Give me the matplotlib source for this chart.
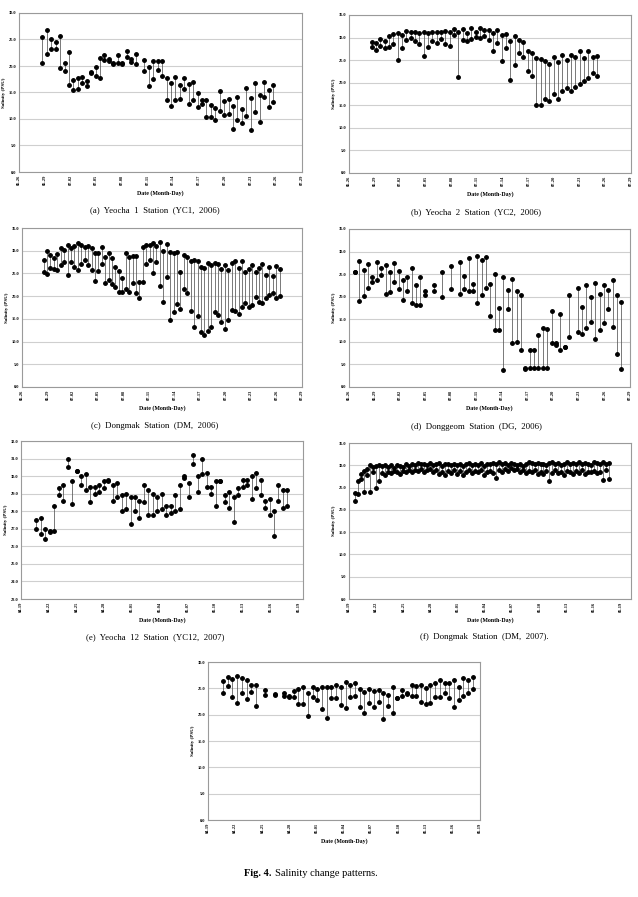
import matplotlib.pyplot as plt
import numpy as np

plt.rcParams["font.family"] = ["Liberation Serif", "DejaVu Serif"]

W, H = 638, 897

JUN_TICKS = ["06-26", "06-29", "07-02", "07-05", "07-08", "07-11",
             "07-14", "07-17", "07-20", "07-23", "07-26", "07-29"]
APR_TICKS = ["04-19", "04-22", "04-25", "04-28", "05-01", "05-04",
             "05-07", "05-10", "05-13", "05-16", "05-19"]

nan = np.nan

# (a) Yeocha 1, 2006 - max / min per reading time
a_t0, a_dt = 2.73, 0.517
a_hi = [25.5, 26.8, 25.0, 24.5, 25.7, 20.6, 22.6, 17.4, 17.8, 18.0,
        17.2, 18.8, 19.8, 21.5, 22.1, 21.4, 20.6, 22.1, 20.6, 22.9,
        21.3, 22.2, nan, 21.2, 19.8, 21.0, 20.9, 21.0, 17.8, 16.7,
        18.0, 16.4, 17.8, 16.6, 16.9, 14.9, 13.6, 13.5, 12.6, 12.0,
        15.3, 13.4, 13.7, 12.5, 14.2, 11.8, 15.8, 14.0, 16.7, 14.5,
        17.0, 15.5, 16.4]
a_lo = [20.5, 22.2, 23.3, 23.3, 19.7, 19.0, 16.5, 15.5, 15.6, 16.8,
        16.3, 18.6, 18.2, 17.7, 21.2, 21.0, 20.4, 20.6, 20.3, 21.7,
        20.8, 20.3, nan, 19.1, 16.2, 17.6, 19.2, 18.2, 13.6, 12.4,
        13.5, 13.8, 15.7, 12.9, 13.6, 12.3, 12.9, 10.3, 10.3, 9.9,
        11.5, 10.8, 11.0, 8.2, 9.9, 9.3, 10.6, 8.0, 11.3, 9.4,
        14.2, 12.3, 13.3]

# (b) Yeocha 2, 2006
b_t0, b_dt = 2.66, 0.507
b_hi = [29.0, 28.8, 29.6, 29.2, 30.3, 30.8, 31.0, 30.6, 31.4, 31.2,
        31.2, 31.0, 31.2, 31.0, 31.2, 31.3, 31.3, 31.5, 31.2, 32.0,
        31.2, 31.8, 31.0, 32.2, 31.2, 32.2, 31.6, 31.7, 31.0, 31.7,
        30.5, 30.8, 29.3, 30.3, 29.4, 29.0, 27.0, 26.5, 25.5, 25.3,
        24.8, 24.2, 25.8, 24.6, 26.2, 25.0, 26.2, 25.6, 27.0, 25.4,
        27.0, 25.6, 26.0]
b_lo = [27.9, 27.3, 28.2, 27.6, 28.0, 28.5, 25.1, 27.7, 29.5, 30.0,
        29.3, 28.6, 26.0, 28.0, 29.2, 28.7, 29.6, 28.6, 28.1, 30.6,
        21.3, 29.5, 29.3, 29.7, 30.2, 29.8, 30.4, 29.5, 27.0, 28.8,
        24.8, 27.6, 20.6, 23.9, 26.5, 25.8, 22.5, 21.4, 15.0, 15.0,
        16.4, 16.0, 17.4, 16.5, 18.2, 18.9, 18.2, 19.0, 19.7, 20.4,
        21.0, 22.2, 21.5]

# (c) Dongmak, 2006
c_t0, c_dt = 2.55, 0.403
c_hi = [28.0, 29.9, 29.0, 28.4, 29.3, 30.5, 30.2, 31.2, 30.5, 31.0,
        31.6, 31.2, 30.8, 31.1, 30.5, 29.5, 29.6, 30.8, 28.6, 29.5,
        28.4, 26.5, 25.5, 24.0, 29.5, 28.7, 28.8, 28.8, 23.2, 30.9,
        31.3, 31.2, 31.8, 31.0, 32.0, 30.0, 31.4, 29.7, 29.4, 29.8,
        25.4, 29.1, 28.6, 27.8, 28.0, 27.8, 26.5, 26.3, 27.2, 26.8,
        27.2, 27.0, 26.0, 26.8, 25.8, 27.4, 27.8, 26.3, 27.8, 25.3,
        26.0, 26.8, 25.3, 26.2, 27.0, 24.6, 26.5, 24.5, 26.7, 26.0]
c_lo = [25.3, 24.8, 26.2, 26.0, 25.8, 26.8, 27.6, 24.7, 27.5, 26.5,
        25.7, 27.0, 28.0, 26.8, 25.8, 23.3, 25.5, 27.0, 23.0, 23.6,
        22.7, 22.0, 21.0, 21.0, 21.5, 21.0, 23.0, 20.8, 19.7, 23.2,
        27.0, 28.0, 25.0, 27.6, 22.3, 18.7, 24.3, 14.8, 16.6, 18.3,
        17.2, 21.5, 20.8, 16.8, 13.1, 15.6, 12.2, 11.5, 12.3, 13.1,
        16.6, 15.8, 14.4, 12.7, 14.8, 17.0, 16.7, 16.0, 17.6, 18.5,
        17.5, 18.0, 19.8, 18.8, 18.6, 19.6, 20.2, 20.8, 19.6, 20.0]

# (d) Donggeom, 2006
d_t0, d_dt = 0.70, 0.513
d_hi = [25.4, 28.0, 26.0, 27.3, 24.3, 27.8, 26.4, 27.0, 25.5, 27.5,
        25.7, 23.8, 24.4, 26.3, 22.6, 24.4, 21.2, nan, 22.5, nan,
        25.4, nan, 26.8, nan, 27.7, 24.5, 28.5, 22.8, 29.0, 28.1,
        28.8, 22.9, 25.1, 17.6, 24.4, 21.5, 23.9, 21.2, 20.3, 4.2,
        8.2, 8.2, 11.5, 13.0, 12.9, 16.8, 9.8, 16.1, 8.8, 20.3,
        nan, 22.0, 17.8, 22.6, 20.0, 23.0, 20.6, 22.7, 21.5, 23.6,
        20.4, 18.8]
d_lo = [25.4, 19.0, 20.1, 22.0, 23.2, 23.8, 24.9, 20.5, 21.0, 23.2,
        21.6, 19.3, 21.3, 18.6, 18.2, 18.1, 20.3, nan, 21.3, nan,
        20.0, nan, 21.6, nan, 20.6, 21.8, 21.3, 21.3, 18.6, 20.4,
        22.0, 15.8, 12.6, 12.6, 3.7, 17.3, 9.7, 10.0, 8.3, 4.0,
        4.2, 4.3, 4.3, 4.2, 4.3, 9.8, 9.4, 8.3, 8.8, 11.1,
        nan, 12.1, 11.8, 13.1, 14.4, 10.7, 12.6, 14.1, 17.2, 13.2,
        7.3, 4.0]

# (e) Yeocha 12, 2007
e_t0, e_dt = 1.66, 0.485
e_hi = [27.5, 27.6, 27.0, 26.9, 28.3, 29.3, 29.5, 31.0, 29.7, 30.3,
        30.0, 30.1, 29.4, 29.4, 29.5, 29.7, 29.8, 29.5, 29.6, 28.9,
        29.0, 28.8, 28.8, 28.6, 29.5, 29.2, 29.0, 28.8, 29.0, 28.3,
        28.3, 28.9, 29.5, 30.0, 29.6, 31.2, 30.0, 31.0, 30.2, 29.4,
        29.7, 29.7, 28.9, 29.1, 28.8, 29.3, 29.8, 29.8, 30.0, 30.2,
        29.8, 28.6, 28.7, 28.0, 29.5, 29.2, 29.2]
e_lo = [27.0, 26.7, 26.4, 26.8, 26.9, 28.9, 28.6, 30.5, 28.4, 30.3,
        29.5, 29.2, 28.5, 29.0, 29.1, 29.3, 29.7, 28.6, 28.8, 28.0,
        28.1, 27.3, 28.0, 27.6, 28.5, 27.8, 27.8, 28.0, 28.1, 27.8,
        27.9, 28.0, 28.1, 29.9, 28.8, 30.7, 29.1, 30.1, 29.4, 29.0,
        28.3, 29.7, 28.5, 28.2, 27.4, 28.9, 29.4, 29.5, 28.7, 29.3,
        28.9, 28.2, 27.8, 26.6, 28.6, 28.2, 28.3]

# (f) Dongmak, 2007
f_t0, f_dt = 0.66, 0.33
f_hi = [23.8, 26.5, 28.0, 28.8, 29.2, 30.0, 29.6, 29.8, 30.0, 29.8,
        30.1, 29.7, 30.0, 29.5, 30.1, 29.8, 29.6, 30.2, 29.9, 30.3,
        30.0, 30.5, 30.2, 30.4, 30.1, 30.6, 30.0, 30.3, 30.5, 29.9,
        30.4, 30.2, 30.0, 30.3, 30.1, 30.4, 29.9, 30.2, 30.5, 30.0,
        30.3, 30.1, 30.5, 29.8, 30.4, 30.2, 30.6, 30.4, 30.7, 30.2,
        30.5, 30.0, 30.6, 30.3, 30.1, 30.4, 29.8, 30.2, 30.7, 30.5,
        30.3, 30.6, 30.2, 30.4, 30.0, 30.5, 30.7, 30.3, 30.6, 30.1,
        30.4, 30.8, 30.2, 30.5, 30.3, 30.7, 30.2, 30.6, 30.4, 30.1,
        30.8, 30.5, 30.3, 30.7, 30.2, 30.6]
f_lo = [22.0, 23.5, 27.0, 24.0, 27.8, 24.0, 28.6, 25.0, 26.5, 28.3,
        27.8, 28.5, 28.2, 28.8, 28.4, 28.0, 28.7, 28.5, 28.9, 28.6,
        29.0, 28.8, 29.1, 28.6, 29.0, 29.2, 28.4, 28.9, 28.0, 28.6,
        27.8, 28.8, 28.3, 29.0, 28.1, 28.7, 27.9, 28.5, 28.9, 28.2,
        28.7, 28.4, 29.0, 27.9, 28.6, 28.8, 28.3, 27.2, 28.9, 28.5,
        29.2, 28.7, 29.4, 28.9, 29.1, 28.5, 29.0, 28.2, 28.8, 28.4,
        28.9, 28.1, 28.6, 28.0, 28.7, 26.5, 28.3, 28.9, 28.2, 28.6,
        27.9, 28.8, 28.4, 28.0, 28.7, 28.3, 28.9, 28.1, 28.6, 28.4,
        28.8, 28.2, 28.5, 26.7, 28.9, 27.0]

# (g) last station, 2007
g_t0, g_dt = 1.66, 0.52
g_hi = [26.4, 27.2, 26.8, 27.3, 26.9, 26.5, 25.6, 25.6, nan, 24.7,
        nan, 23.9, nan, 24.2, 23.6, 24.4, 24.8, 25.3, 24.2, 25.3,
        24.8, 25.2, 25.3, 25.2, 25.6, 25.2, 26.2, 25.6, 26.0, 24.9,
        24.3, 24.8, 24.4, 24.6, 24.2, 23.8, 25.2, 23.2, 24.6, 24.2,
        25.6, 25.4, 25.7, 25.0, 25.7, 26.1, 26.5, 26.1, 26.0, 26.5,
        25.2, 27.0, 26.5, 27.1]
g_lo = [24.1, 25.4, 23.3, 22.2, 24.2, 22.9, 24.3, 21.6, nan, 23.7,
        nan, 23.8, nan, 23.6, 23.4, 23.3, 22.1, 22.1, 19.8, 23.3,
        22.8, 21.1, 19.4, 23.1, 23.2, 21.9, 21.3, 23.3, 23.5, 21.5,
        20.4, 22.2, 21.4, 22.4, 19.1, 21.6, 20.4, 23.2, 23.6, 23.9,
        23.5, 23.6, 22.5, 22.0, 22.2, 23.4, 23.4, 24.2, 23.1, 21.5,
        22.8, 23.6, 24.2, 24.8]

fig = plt.figure(figsize=(W / 100, H / 100), dpi=100)


def px_rect(left, right, top, bottom):
    return [left / W, 1 - bottom / H, (right - left) / W, (bottom - top) / H]


def panel(box, hi, lo, t0, dt, ylim, ystep, ticks, xmax, caption, cap_x, cap_y):
    left, right, top, bottom = box
    ax = fig.add_axes(px_rect(left, right, top, bottom))
    hi = np.array(hi, dtype=float)
    lo = np.array(lo, dtype=float)
    t = t0 + dt * np.arange(len(hi))
    ax.vlines(t, lo, hi, color="#555555", lw=0.55, zorder=2)
    ax.plot(t, hi, "o", ms=2.5, color="black", mec="black", zorder=3)
    ax.plot(t, lo, "o", ms=2.5, color="black", mec="black", zorder=3)
    ax.set_xlim(0, xmax)
    ax.set_ylim(*ylim)
    yt = np.arange(ylim[0], ylim[1] + 0.01, ystep)
    ax.set_yticks(yt)
    ax.set_yticklabels([f"{v:.1f}" for v in yt], fontsize=3.2, fontweight="bold")
    ax.set_xticks(np.arange(len(ticks)) * 3)
    ax.set_xticklabels(ticks, rotation=90, fontsize=3.2, fontweight="bold")
    ax.tick_params(length=0, pad=2)
    ax.grid(axis="y", color="#cfcfcf", lw=0.8)
    ax.set_axisbelow(True)
    for s in ax.spines.values():
        s.set_color("#9a9a9a")
        s.set_linewidth(0.8)
    ax.set_ylabel("Salinity (PSU)", fontsize=3.6, fontweight="bold", labelpad=2)
    fig.text((left + right) / 2 / W, 1 - (bottom + 21) / H, "Date (Month-Day)",
             ha="center", va="center", fontsize=4.2, fontweight="bold")
    if caption:
        fig.text(cap_x / W, 1 - cap_y / H, caption, ha="center", va="center", fontsize=6.3)
    return ax


panel((19, 302, 13, 172), a_hi, a_lo, a_t0, a_dt, (0, 30), 5, JUN_TICKS, 33,
      "(a)  Yeocha  1  Station  (YC1,  2006)", 155, 210)
panel((349, 631, 15, 173), b_hi, b_lo, b_t0, b_dt, (0, 35), 5, JUN_TICKS, 33,
      "(b)  Yeocha  2  Station  (YC2,  2006)", 476, 212)
panel((22, 302, 228, 387), c_hi, c_lo, c_t0, c_dt, (0, 35), 5, JUN_TICKS, 33,
      "(c)  Dongmak  Station  (DM,  2006)", 155, 426)
panel((349, 630, 229, 387), d_hi, d_lo, d_t0, d_dt, (0, 35), 5, JUN_TICKS, 33,
      "(d)  Donggeom  Station  (DG,  2006)", 476, 427)
panel((21, 303, 441, 599), e_hi, e_lo, e_t0, e_dt, (23, 32), 1, APR_TICKS, 30.5,
      "(e)  Yeocha  12  Station  (YC12,  2007)", 155, 637)
panel((349, 631, 443, 599), f_hi, f_lo, f_t0, f_dt, (0, 35), 5, APR_TICKS, 31.1,
      "(f)  Dongmak  Station  (DM,  2007).", 484, 637)
panel((208, 480, 662, 820), g_hi, g_lo, g_t0, g_dt, (0, 30), 5, APR_TICKS, 30,
      "", 317, 850)

fig.text(271 / W, 1 - 873 / H, "Fig. 4.", ha="right", va="center",
         fontsize=7.5, fontweight="bold")
fig.text(275 / W, 1 - 873 / H, "Salinity change patterns.", ha="left", va="center",
         fontsize=7.5)

fig.savefig("out.png", dpi=100)
